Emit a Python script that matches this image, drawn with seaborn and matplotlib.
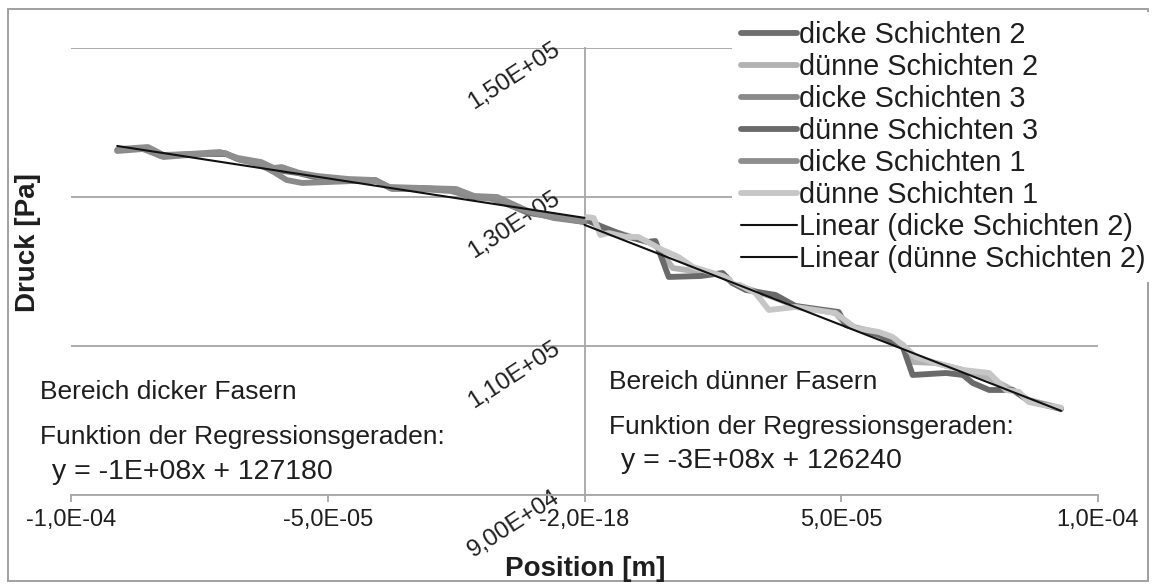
import numpy as np
import pandas as pd
import matplotlib
matplotlib.use("Agg")
import matplotlib.pyplot as plt
from matplotlib.patches import Rectangle
import seaborn as sns

# ---- data -------------------------------------------------------------
# positions in micrometres, pressure in Pa
dicke2_x = [-91.0, -85.6, -82.5, -76.6, -69.8, -67.6, -63.2, -60.0, -55.8, -52.6, -46.8,
            -40.7, -37.8, -31.8, -25.7, -22.0, -17.5, -14.6, -10.9, -5.7, 0.0]
dicke2_y = [136270, 136540, 135470, 135730, 135730, 135060, 134530, 133590, 133190, 132650, 132250,
            132250, 131180, 131180, 130910, 129970, 129840, 128900, 127830, 127290, 126620]

dicke3_x = [-91.0, -86.0, -82.0, -77.0, -70.0, -67.0, -63.5, -60.5, -58.0, -55.0, -50.0,
            -45.0, -40.5, -37.5, -32.0, -26.0, -22.5, -18.0, -14.0, -10.5, -6.0, 0.0]
dicke3_y = [136135, 136403, 135331, 135599, 135867, 134929, 134393, 133322, 132250, 131848, 131981,
            132116, 132116, 131044, 131044, 130776, 130107, 129705, 128767, 127963, 127160, 126624]

dicke1_x = [-90.5, -85.0, -82.0, -77.0, -71.0, -67.5, -63.0, -60.5, -59.0, -55.5, -52.0,
            -46.0, -41.0, -38.0, -31.5, -25.0, -21.5, -17.0, -14.0, -11.0, -5.5, 0.0]
dicke1_y = [136403, 136671, 135599, 135733, 136001, 135197, 134661, 133857, 133991, 133188, 132786,
            132384, 132250, 131312, 131178, 131044, 130107, 129973, 129035, 128097, 127428, 126758]

duenne1_x = [0.4, 1.8, 3.1, 4.7, 8.0, 10.5, 12.3, 15.2, 18.3, 21.1, 26.9, 31.4, 33.3, 35.9, 41.1,
             48.9, 52.8, 57.3, 60.0, 62.0, 64.5, 68.4, 73.7, 78.8, 82.1, 84.6, 86.5, 89.3, 92.8]
duenne1_y = [127290, 127160, 124880, 125150, 124620, 124620, 123950, 122870, 121940, 120600, 119390,
             117780, 117110, 114840, 115240, 114430, 112420, 111890, 111220, 110150, 108540, 107740,
             106800, 106400, 104120, 103850, 102510, 102110, 101710]

duenne2_x = [0.4, 3.1, 8.0, 12.3, 13.8, 17.2, 22.6, 26.9, 28.8, 31.4, 36.6, 41.1, 48.9, 50.9,
             57.3, 62.0, 63.9, 68.4, 73.7, 78.8, 83.4, 86.5, 92.8]
duenne2_y = [127160, 125820, 124880, 123950, 123680, 120460, 119930, 119530, 118450, 117780, 116580,
             115370, 114430, 112830, 111750, 110150, 107870, 107740, 106800, 105730, 104120, 102780,
             101710]

duenne3_x = [0.4, 3.1, 8.0, 12.3, 13.8, 16.4, 22.6, 26.9, 28.8, 31.4, 37.2, 41.1, 49.5, 50.9,
             57.3, 62.0, 63.9, 70.4, 73.7, 75.6, 78.8, 83.4, 86.5, 92.8]
duenne3_y = [126890, 126090, 124750, 123950, 124080, 119260, 119390, 119790, 118450, 117520, 116850,
             115370, 114570, 112830, 111490, 109880, 106130, 106400, 106130, 105060, 104120, 104120,
             102650, 101570]

# linear trend coefficients (slope in Pa/m, intercept in Pa) and fitted x range (µm)
trend_dick_slope, trend_dick_icpt = -1.058e8, 127180
trend_duenn_slope, trend_duenn_icpt = -2.684e8, 126240
trend_dick_range = [-91.0, 0.0]
trend_duenn_range = [0.0, 92.8]

xtick_values = [-1e-4, -5e-5, 0.0, 5e-5, 1e-4]
xtick_labels = ["-1,0E-04", "-5,0E-05", "-2,0E-18", "5,0E-05", "1,0E-04"]
ytick_values = [90000, 110000, 130000, 150000]
ytick_labels = ["9,00E+04", "1,10E+05", "1,30E+05", "1,50E+05"]

# ---- styling ----------------------------------------------------------
sns.set_theme(style="white")
plt.rcParams["font.family"] = ["Liberation Sans", "DejaVu Sans"]

W, H = 1155, 588
fig = plt.figure(figsize=(W / 100, H / 100), dpi=100)
ax = fig.add_axes([71 / W, 1 - 495.4 / H, (1098 - 71) / W, (495.4 - 47.5) / H])

grid_c = "#a6a6a6"
tc = "#1e1e1e"
series = [
    ("dicke Schichten 2", dicke2_x, dicke2_y, "#6e6e6e"),
    ("dünne Schichten 2", duenne2_x, duenne2_y, "#b2b2b2"),
    ("dicke Schichten 3", dicke3_x, dicke3_y, "#8a8a8a"),
    ("dünne Schichten 3", duenne3_x, duenne3_y, "#6a6a6a"),
    ("dicke Schichten 1", dicke1_x, dicke1_y, "#8e8e8e"),
    ("dünne Schichten 1", duenne1_x, duenne1_y, "#c6c6c6"),
]

for name, xs, ys, col in series:
    df = pd.DataFrame({"x": np.array(xs) * 1e-6, "y": ys})
    sns.lineplot(data=df, x="x", y="y", ax=ax, color=col, lw=4.2, sort=False,
                 label=name, solid_capstyle="round", solid_joinstyle="round", zorder=3)

trends = [
    ("Linear (dicke Schichten 2)", trend_dick_slope, trend_dick_icpt, trend_dick_range),
    ("Linear (dünne Schichten 2)", trend_duenn_slope, trend_duenn_icpt, trend_duenn_range),
]
for name, m, b, rng in trends:
    tx = np.array(rng) * 1e-6
    df = pd.DataFrame({"x": tx, "y": m * tx + b})
    sns.lineplot(data=df, x="x", y="y", ax=ax, color="#111111", lw=1.5, label=name, zorder=4)

ax.set_xlim(-1e-4, 1e-4)
ax.set_ylim(90000, 150000)
ax.set_xticks(xtick_values)
ax.set_xticklabels(xtick_labels)
ax.set_yticks(ytick_values)
ax.set_yticklabels(ytick_labels)
ax.set_xlabel("")
ax.set_ylabel("")

ax.grid(axis="y", color=grid_c, lw=1.3)
ax.grid(axis="x", visible=False)
ax.set_axisbelow(True)
for s in ["top", "right"]:
    ax.spines[s].set_visible(False)
ax.spines["left"].set_position(("data", 0))
for s in ["left", "bottom"]:
    ax.spines[s].set_color(grid_c)
    ax.spines[s].set_linewidth(1.3)

ax.tick_params(axis="x", direction="out", length=5, width=1.3, color=grid_c,
               pad=5, labelcolor=tc, labelsize=17, bottom=True)
ax.tick_params(axis="y", length=0, pad=19, labelcolor=tc, labelsize=17.5)
plt.setp(ax.get_yticklabels(), rotation=33, rotation_mode="anchor", ha="right", va="center")

ax.get_legend().remove()
handles, labels = ax.get_legend_handles_labels()
fig.legend(handles, labels, loc="upper left", bbox_to_anchor=(732 / W, 1 - 12 / H),
           bbox_transform=fig.transFigure, fontsize=20.8, frameon=True, facecolor="white",
           edgecolor="none", framealpha=1, borderpad=0.3, labelspacing=0.14,
           handlelength=1.95, handletextpad=0.07, borderaxespad=0, labelcolor=tc)

# axis titles
fig.text(585 / W, 1 - 569 / H, "Position [m]", ha="center", va="center",
         fontsize=20, fontweight="bold", color=tc)
fig.text(28 / W, 1 - 243 / H, "Druck [Pa]", ha="center", va="center", rotation=90,
         fontsize=20, fontweight="bold", color=tc)

# region notes with regression equations
def eq(m, b):
    return f"y = {m:.0E}x + {b:.0f}"

fig.text(40 / W, 1 - 392 / H, "Bereich dicker Fasern", fontsize=19, va="center", color=tc)
fig.text(40 / W, 1 - 437 / H, "Funktion der Regressionsgeraden:", fontsize=19, va="center", color=tc)
fig.text(52 / W, 1 - 472 / H, eq(trend_dick_slope, trend_dick_icpt), fontsize=20.5, va="center", color=tc)
fig.text(609 / W, 1 - 382 / H, "Bereich dünner Fasern", fontsize=19, va="center", color=tc)
fig.text(609 / W, 1 - 427 / H, "Funktion der Regressionsgeraden:", fontsize=19, va="center", color=tc)
fig.text(621 / W, 1 - 461 / H, eq(trend_duenn_slope, trend_duenn_icpt), fontsize=20.5, va="center", color=tc)

# chart-area frame
fig.patches.append(Rectangle((8 / W, 1 - 581 / H), (1148 - 8) / W, (581 - 9) / H,
                             transform=fig.transFigure, fill=False, edgecolor="#a0a0a0", lw=1.4))

fig.savefig("out.png", dpi=100)
